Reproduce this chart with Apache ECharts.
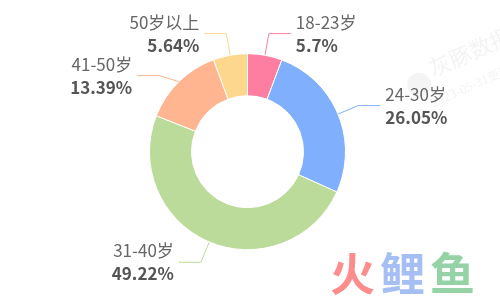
<!DOCTYPE html>
<html>
<head>
<meta charset="utf-8">
<script src="https://cdn.jsdelivr.net/npm/echarts@6/dist/echarts.min.js"></script>
<style>
html,body{margin:0;padding:0;background:#fff;}
#main{width:500px;height:299px;}
</style>
</head>
<body>
<div id="main"></div>
<script>
var categories = ['18-23岁', '24-30岁', '31-40岁', '41-50岁', '50岁以上'];
var values = [5.7, 26.05, 49.22, 13.39, 5.64];
var colors = ['#fd7ea0', '#80affd', '#badb99', '#feb590', '#fdd78e'];

var chart = echarts.init(document.getElementById('main'));
var data = categories.map(function (c, i) {
  return { name: c, value: values[i], itemStyle: { color: colors[i] } };
});
var option = {
  animation: false,
  graphic: [
    { type: 'group', left: 400, top: 24, rotation: 0.42, silent: true, children: [
      { type: 'circle', shape: { cx: 12, cy: 34, r: 12 }, style: { fill: 'rgba(0,0,0,0.045)' } },
      { type: 'text', x: 28, y: 14, style: { text: '灰豚数据', font: '22px "Noto Sans CJK SC"', fill: 'rgba(0,0,0,0.05)' } },
      { type: 'text', x: 16, y: 50, style: { text: '2023-05-31更新', font: '12px "Noto Sans CJK SC"', fill: 'rgba(0,0,0,0.05)' } }
    ]},
    { type: 'text', left: 330, top: 251, silent: true, style: { text: '火', font: 'bold 45px "Noto Sans CJK SC"', fill: '#fd8d8c' } },
    { type: 'text', left: 380, top: 251, silent: true, style: { text: '鲤', font: 'bold 45px "Noto Sans CJK SC"', fill: '#a5bef4' } },
    { type: 'text', left: 430, top: 251, silent: true, style: { text: '鱼', font: 'bold 45px "Noto Sans CJK SC"', fill: '#95d3a6' } }
  ],
  series: [{
    type: 'pie',
    center: [247.5, 151.7],
    radius: [56, 98],
    startAngle: 90,
    clockwise: true,
    data: data,
    itemStyle: { borderColor: '#fff', borderWidth: 1 },
    label: {
      formatter: function (p) { return '{n|' + p.name + '}\n{v|' + p.value + '%}'; },
      rich: {
        n: { fontSize: 17, color: '#666', fontFamily: '"Noto Sans CJK SC"', lineHeight: 23 },
        v: { fontSize: 17, color: '#555', fontWeight: 'bold', fontFamily: '"Noto Sans CJK SC"', lineHeight: 23 }
      }
    },
    labelLine: { show: true, length: 22, length2: 22, lineStyle: { width: 1 } }
  }]
};
chart.setOption(option);
</script>
</body>
</html>
